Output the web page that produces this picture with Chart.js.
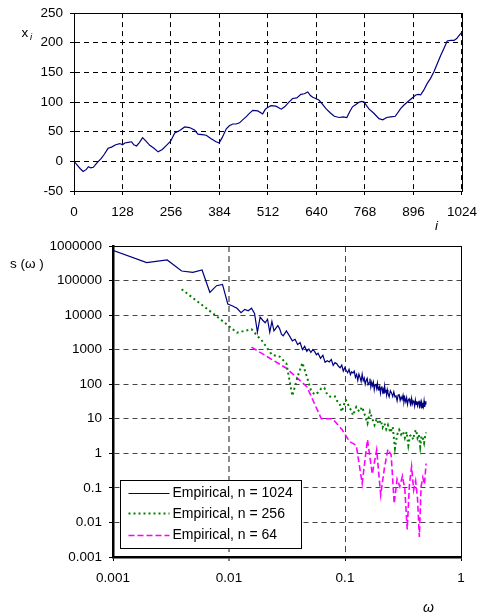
<!DOCTYPE html>
<html>
<head>
<meta charset="utf-8">
<script src="https://cdn.jsdelivr.net/npm/chart.js@4.4.1/dist/chart.umd.min.js"></script>
<style>
  html, body { margin: 0; padding: 0; background: #fff; }
  #wrap { position: relative; width: 478px; height: 614px; overflow: hidden; }
  canvas { position: absolute; left: 0; }
  #walkChart { top: -2px; z-index: 2; }
  #specChart { top: 228px; z-index: 1; }
</style>
</head>
<body>
<div id="wrap">
  <canvas id="walkChart" width="486" height="242"></canvas>
  <canvas id="specChart" width="478" height="386"></canvas>
</div>
<script>
// top panel: the walk x_i against i
const walkIndex = [0, 8, 16, 24, 32, 38, 44, 51, 60, 72, 80, 90, 99, 110, 121, 128, 134, 143, 152, 158,
  165, 173, 181, 190, 200, 211, 222, 233, 244, 255, 266, 279, 292, 305, 318, 327, 338, 349, 362, 375,
  383, 391, 402, 410, 419, 428, 437, 445, 454, 463, 472, 485, 498, 505, 511, 520, 533, 547, 556, 566,
  577, 588, 599, 608, 617, 624, 630, 638, 647, 656, 665, 676, 687, 700, 710, 720, 728, 735, 744, 753,
  760, 766, 772, 779, 790, 805, 815, 825, 836, 848, 862, 871, 880, 891, 902, 908, 915, 923, 932, 941,
  950, 959, 968, 976, 985, 994, 1003, 1010, 1017, 1024];
const walkValue = [0, -6, -12, -17, -14, -9, -11, -10, -3, 5, 12, 22, 24, 28, 30, 28, 31, 32, 33, 28,
  26, 32, 40, 34, 27, 22, 16, 20, 27, 34, 48, 52, 58, 57, 53, 46, 45, 44, 38, 33,
  31, 40, 55, 60, 63, 63, 65, 70, 75, 81, 86, 85, 80, 88, 91, 94, 93, 88, 92, 99,
  106, 107, 113, 114, 117, 111, 108, 106, 103, 96, 89, 82, 76, 74, 75, 74, 84, 92, 96, 100,
  101, 100, 94, 88, 82, 72, 70, 74, 75, 76, 89, 95, 100, 106, 112, 113, 112, 120, 131, 140,
  151, 165, 179, 190, 203, 204, 204, 207, 213, 218];
const walkXTicks = [0, 128, 256, 384, 512, 640, 768, 896, 1024];
const walkYTicks = [-50, 0, 50, 100, 150, 200, 250];

// bottom panel: spectrum s(w), k = harmonic number, w = k / n
const seriesNames = ["Empirical, n = 1024", "Empirical, n = 256", "Empirical, n = 64"];
const seriesSizes = [1024, 256, 64];

const k1024 = [1, 2, 3, 4, 5, 6, 7, 8, 9, 10, 11, 12, 13, 14, 15, 16, 17, 18, 19, 20, 21, 22, 23, 24, 25, 26, 27, 28, 29, 30,
  32, 34, 36, 38, 40, 42, 44, 46, 48, 50, 52, 54, 56, 58, 60,
  63, 66, 69, 72, 75, 78, 81, 84, 87, 90, 93, 96, 99, 102, 105, 108, 111, 114, 117, 120,
  123, 126, 129, 132, 135, 138, 141, 144, 147, 150, 153, 156, 159, 162, 165, 168, 171, 174, 177, 180,
  183, 186, 189, 192, 195, 198, 201, 204, 207, 210, 213, 216, 219, 222, 225, 228, 231, 234, 237, 240,
  246, 252, 258, 264, 270, 276, 282, 288, 294, 300, 306, 312, 318, 324, 330, 336, 342, 348, 354, 360,
  366, 372, 378, 384, 390, 396, 402, 408, 414, 420, 426, 432, 438, 444, 450, 456, 462, 468, 474, 480,
  486, 492, 498, 504, 510, 512];
const s1024 = [766000, 329000, 394000, 189000, 173000, 202000, 45700, 71000, 77600, 21000, 18400, 15800, 11800, 14700, 13400,
  15800, 11200, 3200, 8700, 7100, 6000, 7600, 3200, 6600, 3500, 4200, 5000, 4000, 2800, 2500,
  3500, 2500, 1800, 2000, 1400, 1600, 1000, 1260, 890, 1050, 830, 1000, 890, 710, 790,
  560, 690, 430, 480, 440, 520, 350, 420, 390, 330, 300, 360, 240, 300, 250, 215, 270, 190, 230, 210,
  240, 158, 193, 129, 195, 158, 120, 195, 126, 151, 100, 129, 148, 98, 110, 145, 83, 115, 91, 115,
  69, 98, 102, 76, 107, 68, 79, 87, 56, 79, 87, 60, 71, 52, 87, 59, 69, 49, 69, 56,
  43, 65, 56, 44, 60, 43, 46, 33, 48, 50, 34, 43, 36, 48, 30, 40, 31, 41, 26, 35,
  38, 30, 26, 39, 27, 33, 30, 23, 35, 26, 32, 24, 30, 33, 20, 30, 25, 31, 21, 29,
  23, 33, 22, 27, 30, 32];

const k256 = [1, 2, 3, 4, 5, 6, 7, 8, 9, 10, 11, 12, 13, 14, 15, 16, 17, 18, 19, 20, 21, 22, 23, 24, 25, 26, 27, 28, 29, 30,
  32, 34, 36, 38, 40, 42, 44, 46, 48, 50, 52, 54, 56, 58, 60,
  63, 66, 69, 72, 75, 78, 81, 84, 87, 90, 93, 96, 99, 102, 105, 108, 111, 114, 117, 120, 123, 126, 128];
const s256 = [56000, 9300, 3100, 3900, 1700, 710, 630, 400, 46, 166, 417, 166, 68, 50, 58, 76, 79, 50, 44, 42,
  44, 32, 28, 16, 25, 35, 28, 20, 18, 12.6,
  22, 16, 22, 12.6, 7.4, 16, 10, 6.6, 10, 7, 9.1, 5.6, 7.4, 5, 6.6,
  4, 5.9, 1.4, 3.4, 4.8, 3.5, 4.3, 2.8, 4.2, 1.7, 3.2, 3.4, 2.5, 4, 4.8, 2.8, 3.5, 1.55, 3.2, 2.75, 2, 3.4, 4];

const k64 = [1, 2, 3, 4, 5, 6, 7, 8, 9, 10, 11, 12, 13, 14, 15, 16, 17, 18, 19, 20, 21, 22, 23, 24, 25, 26, 27, 28, 29, 30, 31, 32];
const s64 = [1180, 290, 85, 10, 10, 5, 2.2, 1.7, 0.135, 2.5, 0.25, 1.26, 0.063, 0.38, 1.3, 0.9,
  0.035, 0.18, 0.11, 0.22, 0.09, 0.0063, 0.126, 0.41, 0.087, 0.16, 0.05, 0.0038, 0.11, 0.2, 0.126, 0.51];

const freqTicks = [0.001, 0.01, 0.1, 1];
const freqLabels = ["0.001", "0.01", "0.1", "1"];
const powerTicks = [0.001, 0.01, 0.1, 1, 10, 100, 1000, 10000, 100000, 1000000];
const powerLabels = ["0.001", "0.01", "0.1", "1", "10", "100", "1000", "10000", "100000", "1000000"];

const FAMILY = "'Liberation Sans', Arial, sans-serif";
const tickFont = { family: FAMILY, size: 13.5 };

// solid frame round the plot area
const framePlugin = {
    id: "frame",
    afterDatasetsDraw(chart) {
        const a = chart.chartArea;
        const ctx = chart.ctx;
        ctx.save();
        ctx.strokeStyle = "#000";
        ctx.lineWidth = 1;
        ctx.strokeRect(Math.round(a.left) + 0.5, Math.round(a.top) + 0.5,
            Math.round(a.right - a.left), Math.round(a.bottom - a.top));
        ctx.restore();
    }
};

function textPlugin(items) {
    return {
        id: "axisText",
        afterDraw(chart) {
            const ctx = chart.ctx;
            ctx.save();
            ctx.fillStyle = "#000";
            ctx.textBaseline = "alphabetic";
            items.forEach(t => {
                ctx.font = t.font;
                ctx.fillText(t.text, t.x, t.y);
            });
            ctx.restore();
        }
    };
}

// legend box in the lower left corner of the plot
const boxLegend = {
    id: "boxLegend",
    afterDraw(chart) {
        const a = chart.chartArea;
        const ctx = chart.ctx;
        const left = Math.round(a.left) + 7.5;
        const top = Math.round(a.bottom) - 76.5;
        const w = 181, h = 68;
        ctx.save();
        ctx.fillStyle = "#fff";
        ctx.fillRect(left, top, w, h);
        ctx.strokeStyle = "#000";
        ctx.lineWidth = 1;
        ctx.strokeRect(left, top, w, h);
        const rows = [12, 32.5, 54];
        chart.data.datasets.forEach((ds, j) => {
            const y = top + rows[j];
            ctx.beginPath();
            ctx.strokeStyle = ds.borderColor;
            ctx.lineWidth = ds.borderWidth;
            ctx.setLineDash(ds.borderDash || []);
            ctx.moveTo(left + 8, Math.round(y) + 0.5);
            ctx.lineTo(left + 49, Math.round(y) + 0.5);
            ctx.stroke();
            ctx.setLineDash([]);
            ctx.fillStyle = "#000";
            ctx.font = "14px " + FAMILY;
            ctx.textBaseline = "middle";
            ctx.fillText(ds.label, left + 52, y + 1);
        });
        ctx.restore();
    }
};

new Chart(document.getElementById("walkChart"), {
    type: "line",
    data: {
        datasets: [{
            data: walkIndex.map((x, j) => ({ x: x, y: walkValue[j] })),
            borderColor: "#000080",
            borderWidth: 1.2,
            pointRadius: 0,
            tension: 0,
            fill: false
        }]
    },
    options: {
        responsive: false,
        animation: false,
        layout: { padding: { top: 11, right: 7, left: 0, bottom: 0 } },
        plugins: { legend: { display: false }, tooltip: { enabled: false } },
        scales: {
            x: {
                type: "linear", min: 0, max: 1024,
                afterFit: s => { s.height = 49; },
                afterBuildTicks: s => { s.ticks = walkXTicks.map(v => ({ value: v })); },
                ticks: { callback: v => String(v), font: tickFont, color: "#000", padding: 9, maxRotation: 0, autoSkip: false },
                grid: { color: "#000", lineWidth: 1, tickLength: 4, tickColor: "#000", tickWidth: 1 },
                border: { color: "#000", width: 1, dash: [5, 4] }
            },
            y: {
                type: "linear", min: -50, max: 250,
                afterFit: s => { s.width = 74; },
                afterBuildTicks: s => { s.ticks = walkYTicks.map(v => ({ value: v })); },
                ticks: { callback: v => String(v), font: tickFont, color: "#000", padding: 7, autoSkip: false },
                grid: { color: "#000", lineWidth: 1, tickLength: 4, tickColor: "#000", tickWidth: 1 },
                border: { color: "#000", width: 1, dash: [5, 4] }
            }
        }
    },
    plugins: [framePlugin, textPlugin([
        { text: "x", x: 21.5, y: 38.5, font: "13.5px " + FAMILY },
        { text: "i", x: 30, y: 41.5, font: "italic 9.5px " + FAMILY },
        { text: "i", x: 435, y: 232, font: "italic 13.5px " + FAMILY }
    ])]
});

function spectrumPoints(k, s, n) {
    return k.map((kk, j) => ({ x: kk / n, y: s[j] }));
}

new Chart(document.getElementById("specChart"), {
    type: "line",
    data: {
        datasets: [
            {
                label: seriesNames[0],
                data: spectrumPoints(k1024, s1024, seriesSizes[0]),
                borderColor: "#000080", borderWidth: 1.2, borderDash: [],
                pointRadius: 0, tension: 0, fill: false
            },
            {
                label: seriesNames[1],
                data: spectrumPoints(k256, s256, seriesSizes[1]),
                borderColor: "#008000", borderWidth: 2, borderDash: [2, 3],
                pointRadius: 0, tension: 0, fill: false
            },
            {
                label: seriesNames[2],
                data: spectrumPoints(k64, s64, seriesSizes[2]),
                borderColor: "#ff00ff", borderWidth: 1.6, borderDash: [6, 3],
                pointRadius: 0, tension: 0, fill: false
            }
        ]
    },
    options: {
        responsive: false,
        animation: false,
        layout: { padding: { top: 18, right: 17, left: 0, bottom: 0 } },
        plugins: { legend: { display: false }, tooltip: { enabled: false } },
        scales: {
            x: {
                type: "logarithmic", min: 0.001, max: 1,
                afterFit: s => { s.height = 57; },
                afterBuildTicks: s => { s.ticks = freqTicks.map(v => ({ value: v })); },
                ticks: { callback: (v, i) => freqLabels[i], font: tickFont, color: "#000", padding: 9, maxRotation: 0, autoSkip: false },
                grid: {
                    color: c => (c.tick && c.tick.value === 0.01) ? "#8c8c8c" : "#444",
                    lineWidth: c => (c.tick && c.tick.value === 0.01) ? 2 : 1,
                    tickLength: 4, tickColor: "#000", tickWidth: 1
                },
                border: { color: "#000", width: 2.5, dash: [6, 4] }
            },
            y: {
                type: "logarithmic", min: 0.001, max: 1000000,
                afterFit: s => { s.width = 113; },
                afterBuildTicks: s => { s.ticks = powerTicks.map(v => ({ value: v })); },
                ticks: { callback: (v, i) => powerLabels[i], font: tickFont, color: "#000", padding: 7, autoSkip: false },
                grid: { color: "#444", lineWidth: 1, tickLength: 4, tickColor: "#000", tickWidth: 1 },
                border: { color: "#000", width: 2.5, dash: [5, 4] }
            }
        }
    },
    plugins: [framePlugin, boxLegend, textPlugin([
        { text: "s (ω )", x: 10, y: 40, font: "13.5px " + FAMILY },
        { text: "ω", x: 423, y: 384, font: "italic 14px " + FAMILY }
    ])]
});
</script>
</body>
</html>
